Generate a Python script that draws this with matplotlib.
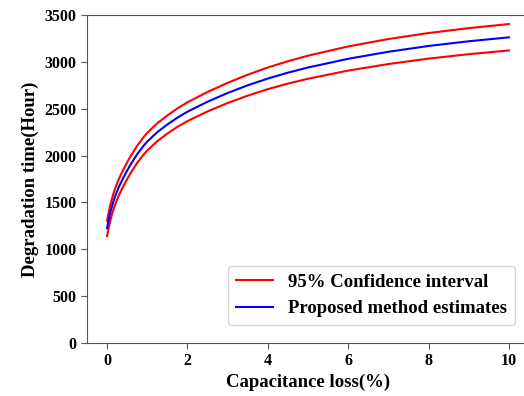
import matplotlib
matplotlib.use('Agg')
import matplotlib.pyplot as plt

plt.rcParams['font.family'] = ['Liberation Serif', 'DejaVu Serif']
plt.rcParams['font.weight'] = 'bold'

# capacitance loss (%) and degradation time (hours)
capacitance_loss = [0, 0.025, 0.05, 0.1, 0.15, 0.2, 0.3, 0.4, 0.5, 0.6, 0.75, 0.9, 1,
                    1.25, 1.5, 1.75, 2, 2.5, 3, 3.5, 4, 4.5, 5, 6, 7, 8, 9, 10]
estimate = [1225, 1280, 1335, 1425, 1500, 1565, 1672, 1760, 1840, 1915, 2015, 2100,
            2150, 2250, 2332, 2405, 2468, 2575, 2668, 2750, 2822, 2885, 2940, 3033,
            3108, 3170, 3220, 3262]
upper_ci = [1305, 1360, 1416, 1507, 1583, 1649, 1757, 1847, 1928, 2004, 2105, 2192,
            2243, 2345, 2428, 2503, 2568, 2679, 2776, 2863, 2940, 3007, 3066, 3165,
            3244, 3308, 3360, 3404]
lower_ci = [1140, 1195, 1249, 1338, 1412, 1477, 1583, 1670, 1749, 1823, 1922, 2006,
            2055, 2154, 2235, 2306, 2368, 2471, 2561, 2640, 2709, 2768, 2820, 2907,
            2977, 3035, 3082, 3122]

fig = plt.figure(figsize=(5.24, 3.96), dpi=100)
ax = fig.add_axes([0.166, 0.134, 0.8435, 0.828])

style = dict(linewidth=1.5, solid_joinstyle='round')
line_ci, = ax.plot(capacitance_loss, upper_ci, color='red',
                   label='95% Confidence interval', **style)
ax.plot(capacitance_loss, lower_ci, color='red', **style)
line_est, = ax.plot(capacitance_loss, estimate, color='blue',
                    label='Proposed method estimates', **style)

ax.set_xlim(-0.5, 10.5)
ax.set_ylim(0, 3500)
ax.set_xticks([0, 2, 4, 6, 8, 10])
ax.set_yticks(range(0, 3501, 500))
ax.spines['right'].set_visible(False)
for sp in ax.spines.values():
    sp.set_color('#555555')
ax.tick_params(labelsize=11.5, length=4, color='#555555')
for lbl in ax.get_xticklabels() + ax.get_yticklabels():
    lbl.set_fontweight('bold')

ax.set_xlabel('Capacitance loss(%)', fontsize=13.5, fontweight='bold', labelpad=3)
ax.set_ylabel('Degradation time(Hour)', fontsize=13.5, fontweight='bold', labelpad=4)

ax.legend(handles=[line_ci, line_est], loc='lower right',
          bbox_to_anchor=(0.968, 0.055), borderaxespad=0,
          prop={'size': 13.5, 'weight': 'bold'}, handlelength=2.0)

fig.savefig('out.png', dpi=100)
